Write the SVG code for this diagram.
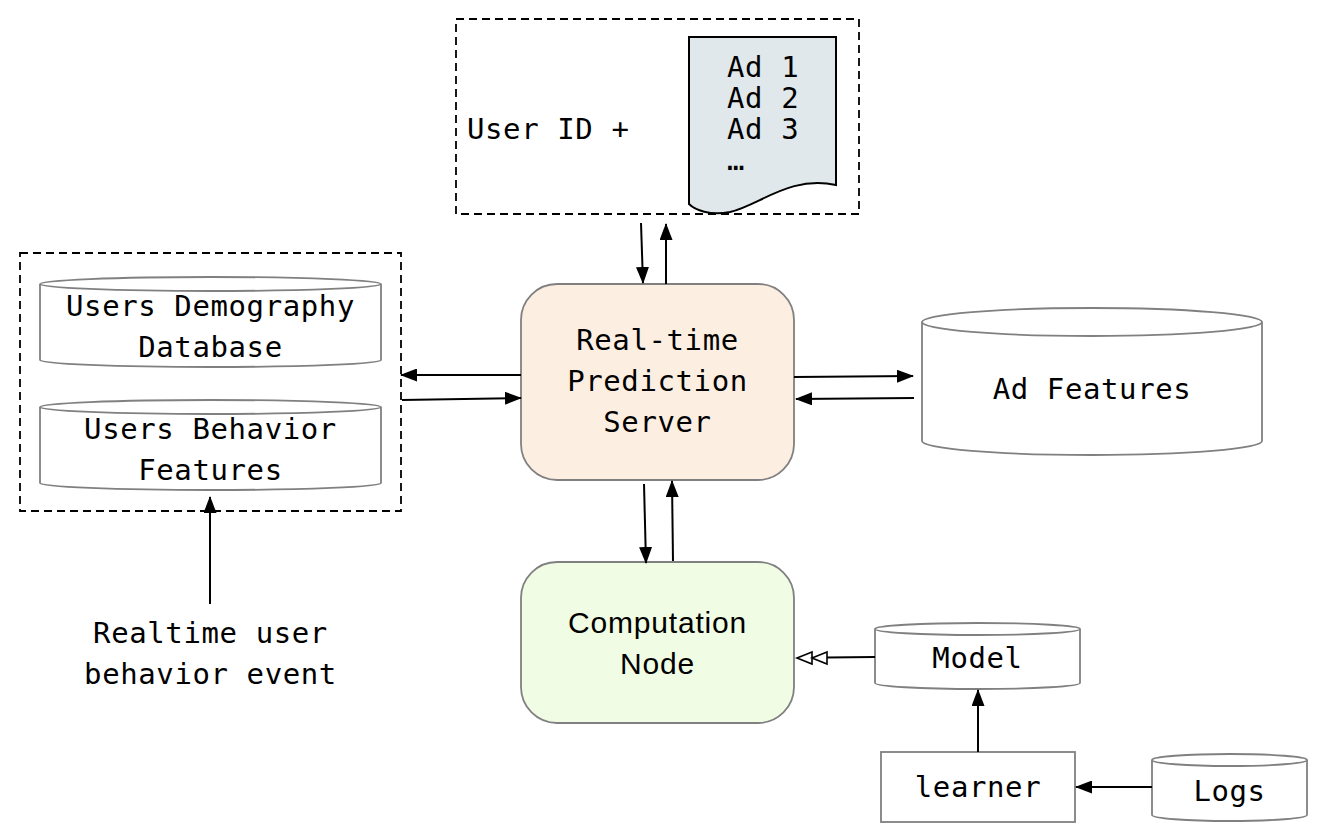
<svg xmlns="http://www.w3.org/2000/svg" width="1328" height="838" viewBox="0 0 1328 838">
<defs>
<style>
.mono{font-family:"DejaVu Sans Mono","Liberation Mono",monospace;font-size:29px;letter-spacing:0.6px;fill:#000;}
.sans{font-family:"Liberation Sans","Noto Sans",sans-serif;font-size:30px;letter-spacing:0.8px;fill:#000;}
.dash{fill:none;stroke:#000;stroke-width:1.8;stroke-dasharray:8 5;}
.cyl{fill:#fff;stroke:#808080;stroke-width:1.8;}
.ln{fill:none;stroke:#000;stroke-width:2;}
</style>
<marker id="ah" viewBox="0 0 17 13" refX="16" refY="6.5" markerWidth="17" markerHeight="13" markerUnits="userSpaceOnUse" orient="auto">
<path d="M0,0 L17,6.5 L0,13 Z" fill="#000"/>
</marker>
</defs>

<g id="candidates">
<rect class="dash" x="456" y="19" width="403" height="195"/>
<text class="mono" x="467" y="139">User ID +</text>
<path d="M689,37 L836,37 L836,185 C790,175 760,205 730,212 C710,216 695,210 689,204 Z" fill="#e1e8ec" stroke="#000" stroke-width="2"/>
<text class="mono" x="727" y="77">Ad 1</text>
<text class="mono" x="727" y="108">Ad 2</text>
<text class="mono" x="727" y="139">Ad 3</text>
<text class="mono" x="727" y="170">…</text>
</g>

<g id="user-features">
<rect class="dash" x="20" y="253" width="381" height="258"/>
<g id="users-demography">
<path class="cyl" d="M40,284 L40,360 A170.5,7 0 0 0 381,360 L381,284"/>
<ellipse class="cyl" cx="210.5" cy="284" rx="170.5" ry="7"/>
<text class="mono" x="210.5" y="316" text-anchor="middle">Users Demography</text>
<text class="mono" x="210.5" y="357" text-anchor="middle">Database</text>
</g>
<g id="users-behavior">
<path class="cyl" d="M40,407 L40,483 A170.5,7 0 0 0 381,483 L381,407"/>
<ellipse class="cyl" cx="210.5" cy="407" rx="170.5" ry="7"/>
<text class="mono" x="210.5" y="439" text-anchor="middle">Users Behavior</text>
<text class="mono" x="210.5" y="480" text-anchor="middle">Features</text>
</g>
</g>

<g id="server">
<rect x="521" y="284" width="273" height="196" rx="36" fill="#fdeee2" stroke="#808080" stroke-width="1.8"/>
<text class="mono" x="657.5" y="350" text-anchor="middle">Real-time</text>
<text class="mono" x="657.5" y="391" text-anchor="middle">Prediction</text>
<text class="mono" x="657.5" y="432" text-anchor="middle">Server</text>
</g>

<g id="ad-features">
<path class="cyl" d="M922,322 L922,441 A170,14 0 0 0 1262,441 L1262,322"/>
<ellipse class="cyl" cx="1092" cy="322" rx="170" ry="14"/>
<text class="mono" x="1092" y="399" text-anchor="middle">Ad Features</text>
</g>

<g id="computation">
<rect x="521" y="562" width="273" height="161" rx="36" fill="#f0fce3" stroke="#808080" stroke-width="1.8"/>
<text class="sans" x="657.5" y="633" text-anchor="middle">Computation</text>
<text class="sans" x="657.5" y="674" text-anchor="middle">Node</text>
</g>

<g id="model">
<path class="cyl" d="M875,629 L875,683 A102.5,6 0 0 0 1080,683 L1080,629"/>
<ellipse class="cyl" cx="977.5" cy="629" rx="102.5" ry="6"/>
<text class="mono" x="977.5" y="668" text-anchor="middle">Model</text>
</g>

<g id="learner">
<rect x="881" y="752" width="194" height="70" fill="#fff" stroke="#808080" stroke-width="1.8"/>
<text class="mono" x="978" y="797" text-anchor="middle">learner</text>
</g>

<g id="logs">
<path class="cyl" d="M1152,760 L1152,815 A77.5,6 0 0 0 1307,815 L1307,760"/>
<ellipse class="cyl" cx="1229.5" cy="760" rx="77.5" ry="6"/>
<text class="mono" x="1229.5" y="801" text-anchor="middle">Logs</text>
</g>

<g id="event">
<text class="mono" x="210.5" y="643" text-anchor="middle">Realtime user</text>
<text class="mono" x="210.5" y="684" text-anchor="middle">behavior event</text>
</g>

<g id="connectors">
<line class="ln" x1="641" y1="223" x2="643" y2="283" marker-end="url(#ah)"/>
<line class="ln" x1="666" y1="284" x2="666" y2="224" marker-end="url(#ah)"/>
<line class="ln" x1="521" y1="375" x2="401" y2="375" marker-end="url(#ah)"/>
<line class="ln" x1="402" y1="400" x2="521" y2="398" marker-end="url(#ah)"/>
<line class="ln" x1="794" y1="377" x2="913" y2="376" marker-end="url(#ah)"/>
<line class="ln" x1="914" y1="398" x2="796" y2="399" marker-end="url(#ah)"/>
<line class="ln" x1="644" y1="484" x2="646" y2="563" marker-end="url(#ah)"/>
<line class="ln" x1="673" y1="561" x2="672" y2="481" marker-end="url(#ah)"/>
<line class="ln" x1="827" y1="657.5" x2="875" y2="657"/>
<path d="M812,652 L797,658 L812,664 Z M827,652 L812,658 L827,664 Z" fill="#fff" stroke="#000" stroke-width="1.6" stroke-linejoin="miter"/>
<line class="ln" x1="978" y1="752" x2="978" y2="690" marker-end="url(#ah)"/>
<line class="ln" x1="1152" y1="787" x2="1076" y2="787" marker-end="url(#ah)"/>
<line class="ln" x1="210" y1="604" x2="210" y2="497" marker-end="url(#ah)"/>
</g>
</svg>
